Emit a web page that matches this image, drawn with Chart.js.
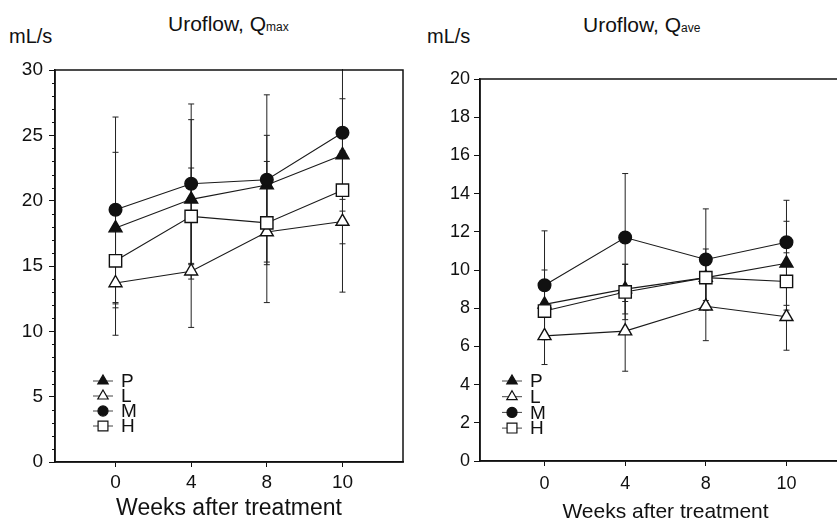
<!DOCTYPE html>
<html>
<head>
<meta charset="utf-8">
<script src="https://cdn.jsdelivr.net/npm/chart.js@4.4.1/dist/chart.umd.min.js"></script>
<style>
body { margin:0; width:837px; height:520px; overflow:hidden; background:#fff; position:relative; font-family:"Liberation Sans", Arial, sans-serif; color:#111; }
canvas { position:absolute; top:0; }
.txt { position:absolute; white-space:nowrap; line-height:1; }
.sm { font-size:12px; }
</style>
</head>
<body>
<div class="txt" style="left:168px; top:13px; font-size:21px">Uroflow, Q<span class="sm">max</span></div>
<div class="txt" style="left:9px; top:26px; font-size:20px">mL/s</div>
<div class="txt" style="left:583px; top:14px; font-size:21px">Uroflow, Q<span class="sm">ave</span></div>
<div class="txt" style="left:427px; top:26px; font-size:20px">mL/s</div>
<canvas id="qmax" width="420" height="530" style="left:0"></canvas>
<canvas id="qave" width="450" height="530" style="left:420px"></canvas>
<script>
// x categories (evenly spaced in the figure)
var weeks = ['0', '4', '8', '10'];
var groups = ['P', 'L', 'M', 'H'];

// Qmax, mean and SD
var qmaxP = [17.9, 20.1, 21.2, 23.5];
var qmaxPsd = [5.8, 6.1, 3.8, 4.3];
var qmaxL = [13.7, 14.6, 17.6, 18.4];
var qmaxLsd = [4.0, 4.3, 5.4, 5.4];
var qmaxM = [19.3, 21.3, 21.6, 25.2];
var qmaxMsd = [7.1, 6.1, 6.5, 5.1];
var qmaxH = [15.4, 18.8, 18.3, 20.8];
var qmaxHsd = [3.6, 3.7, 3.0, 4.1];

// Qave, mean and SD
var qaveP = [8.2, 9.0, 9.6, 10.35];
var qavePsd = [1.8, 1.3, 1.2, 2.2];
var qaveL = [6.55, 6.8, 8.1, 7.55];
var qaveLsd = [1.5, 2.1, 1.8, 1.75];
var qaveM = [9.2, 11.7, 10.55, 11.45];
var qaveMsd = [2.85, 3.35, 2.65, 2.2];
var qaveH = [7.85, 8.85, 9.6, 9.4];
var qaveHsd = [1.2, 1.45, 1.5, 1.5];

var markers = {
	P: { style: 'triangle', radius: 7.5, fill: '#111', order: 3 },
	L: { style: 'triangle', radius: 7.5, fill: '#fff', order: 2 },
	M: { style: 'circle', radius: 6.3, fill: '#111', order: 1 },
	H: { style: 'rect', radius: 8.7, fill: '#fff', order: 0 }
};

function createDataset(label, values, sd) {
	var m = markers[label];
	return {
		label: label,
		data: values.map(function (v, i) { return { x: i, y: v }; }),
		sd: sd,
		order: m.order,
		borderColor: '#1a1a1a',
		borderWidth: 1.1,
		pointStyle: m.style,
		pointRadius: m.radius,
		pointBackgroundColor: m.fill,
		pointBorderColor: '#111',
		pointBorderWidth: 1.4,
		fill: false,
		tension: 0
	};
}

var panelDecor = {
	id: 'panelDecor',
	beforeDatasetsDraw: function (chart) {
		var ctx = chart.ctx, a = chart.chartArea, xs = chart.scales.x, ys = chart.scales.y;
		ctx.save();
		ctx.beginPath();
		ctx.rect(a.left, a.top - 1, a.right - a.left, a.bottom - a.top + 1);
		ctx.clip();
		ctx.strokeStyle = '#222';
		ctx.lineWidth = 1;
		chart.data.datasets.forEach(function (ds) {
			ds.data.forEach(function (p, i) {
				var x = xs.getPixelForValue(p.x);
				var y1 = ys.getPixelForValue(p.y + ds.sd[i]);
				var y2 = ys.getPixelForValue(p.y - ds.sd[i]);
				ctx.beginPath();
				ctx.moveTo(x, y1); ctx.lineTo(x, y2);
				ctx.moveTo(x - 3, y1); ctx.lineTo(x + 3, y1);
				ctx.moveTo(x - 3, y2); ctx.lineTo(x + 3, y2);
				ctx.stroke();
			});
		});
		ctx.restore();
	},
	afterDraw: function (chart, args, o) {
		var ctx = chart.ctx, a = chart.chartArea, ys = chart.scales.y;
		ctx.save();
		// frame
		ctx.strokeStyle = '#111';
		ctx.lineWidth = 1.5;
		ctx.strokeRect(a.left, a.top, a.right - a.left, a.bottom - a.top);
		// minor ticks
		if (o.minorStep) {
			ctx.lineWidth = 1;
			for (var v = ys.min; v <= ys.max; v += o.minorStep) {
				if (v % o.majorStep === 0) continue;
				var y = Math.round(ys.getPixelForValue(v)) + 0.5;
				ctx.beginPath(); ctx.moveTo(a.left - 3, y); ctx.lineTo(a.left, y); ctx.stroke();
			}
		}
		// legend
		var sorted = groups.map(function (g) {
			return chart.data.datasets.filter(function (d) { return d.label === g; })[0];
		});
		ctx.font = '19px "Liberation Sans", Arial, sans-serif';
		ctx.textBaseline = 'middle';
		ctx.textAlign = 'left';
		sorted.forEach(function (ds, k) {
			var x = a.left + o.legendX;
			var y = a.bottom - o.legendBottom + k * o.rowGap;
			ctx.strokeStyle = '#444';
			ctx.lineWidth = 1;
			ctx.beginPath(); ctx.moveTo(x - 10, y); ctx.lineTo(x + 10, y); ctx.stroke();
			ctx.fillStyle = ds.pointBackgroundColor;
			ctx.strokeStyle = '#111';
			ctx.lineWidth = 1.2;
			Chart.helpers.drawPoint(ctx, { pointStyle: ds.pointStyle, radius: ds.pointRadius * 0.8, rotation: 0, borderWidth: 1.2 }, x, y);
			ctx.fillStyle = '#111';
			ctx.fillText(ds.label, x + 18, y + 1);
		});
		ctx.restore();
	}
};

function buildPanel(id, datasets, yMax, yStep, lay) {
	var ctx = document.getElementById(id).getContext('2d');
	return new Chart(ctx, {
		type: 'line',
		data: { datasets: datasets },
		options: {
			responsive: false,
			animation: false,
			devicePixelRatio: 1,
			layout: { padding: { top: lay.top, right: lay.right, left: 0, bottom: 0 } },
			plugins: {
				legend: { display: false },
				tooltip: { enabled: false },
				panelDecor: lay.decor
			},
			scales: {
				x: {
					type: 'linear',
					min: -0.8,
					max: 3.8,
					afterBuildTicks: function (scale) {
						scale.ticks = weeks.map(function (w, i) { return { value: i }; });
					},
					afterFit: function (scale) { scale.height = lay.xHeight; },
					ticks: {
						color: '#111',
						font: { family: '"Liberation Sans", Arial, sans-serif', size: lay.tickSize },
						padding: lay.xPad,
						autoSkip: false,
						maxRotation: 0,
						callback: function (v) { return weeks[v]; }
					},
					grid: { drawOnChartArea: false, drawTicks: true, tickLength: 5, tickColor: '#111' },
					border: { display: true, color: '#111', width: 1.5 },
					title: {
						display: true,
						text: 'Weeks after treatment',
						color: '#111',
						font: { family: '"Liberation Sans", Arial, sans-serif', size: lay.titleSize },
						padding: { top: 0, bottom: lay.titlePad }
					}
				},
				y: {
					min: 0,
					max: yMax,
					afterFit: function (scale) { scale.width = lay.yWidth; },
					ticks: {
						stepSize: yStep,
						color: '#111',
						padding: lay.yPad,
						font: { family: '"Liberation Sans", Arial, sans-serif', size: lay.tickSize }
					},
					grid: { drawOnChartArea: false, drawTicks: true, tickLength: 6, tickColor: '#111' },
					border: { display: true, color: '#111', width: 1.5 }
				}
			}
		},
		plugins: [panelDecor]
	});
}

buildPanel('qmax', [
	createDataset('P', qmaxP, qmaxPsd),
	createDataset('L', qmaxL, qmaxLsd),
	createDataset('M', qmaxM, qmaxMsd),
	createDataset('H', qmaxH, qmaxHsd)
], 30, 5, {
	top: 70, right: 17, yWidth: 55, xHeight: 68, tickSize: 19, xPad: 4, yPad: 6, titleSize: 23, titlePad: 8,
	decor: { minorStep: 1, majorStep: 5, legendX: 48, legendBottom: 81, rowGap: 15 }
});

buildPanel('qave', [
	createDataset('P', qaveP, qavePsd),
	createDataset('L', qaveL, qaveLsd),
	createDataset('M', qaveM, qaveMsd),
	createDataset('H', qaveH, qaveHsd)
], 20, 2, {
	top: 79, right: 19, yWidth: 60, xHeight: 69, tickSize: 18, xPad: 7, yPad: 4, titleSize: 21, titlePad: 5,
	decor: { minorStep: 0, majorStep: 2, legendX: 32, legendBottom: 80, rowGap: 15.7 }
});
</script>
</body>
</html>
